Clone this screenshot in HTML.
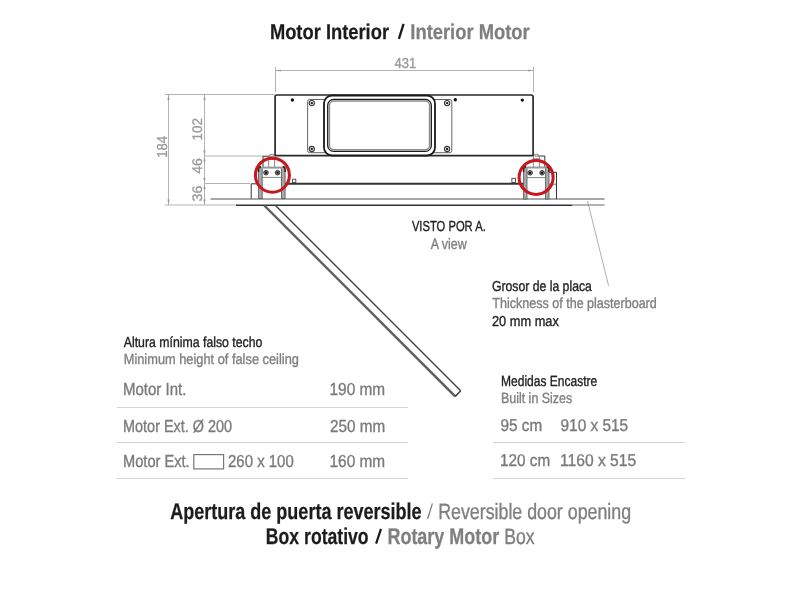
<!DOCTYPE html>
<html><head><meta charset="utf-8"><style>
html,body{margin:0;padding:0;background:#fff;}
svg{display:block;will-change:transform;}
text{font-family:"Liberation Sans", sans-serif;text-rendering:geometricPrecision;}
</style></head><body>
<svg width="800" height="589" viewBox="0 0 800 589">
<rect width="800" height="589" fill="#fff"/>
<g fill="none" stroke="#b3b3b3" stroke-width="1">
  <!-- 431 dim -->
  <line x1="275" y1="70.5" x2="533.5" y2="70.5"/>
  <line x1="275.5" y1="67" x2="275.5" y2="92"/>
  <line x1="533.5" y1="67" x2="533.5" y2="92"/>
  <!-- top ext -->
  <line x1="165" y1="94.5" x2="275" y2="94.5"/>
  <!-- 184 dim -->
  <line x1="168.5" y1="94.5" x2="168.5" y2="205"/>
  <!-- 102/46/36 dim -->
  <line x1="204.5" y1="94.5" x2="204.5" y2="205"/>
  <line x1="204" y1="156" x2="263" y2="156"/>
  <line x1="204" y1="183.5" x2="250" y2="183.5"/>
  <line x1="165" y1="205" x2="236" y2="205"/>
</g>
<g fill="#999" stroke="none">
<polygon points="168.5,95.0 169.6,100.0 167.4,100.0"/>
<polygon points="168.5,204.6 167.4,199.6 169.6,199.6"/>
<polygon points="204.5,95.0 205.6,100.0 203.4,100.0"/>
<polygon points="204.5,155.6 203.4,150.6 205.6,150.6"/>
<polygon points="204.5,156.4 205.6,161.4 203.4,161.4"/>
<polygon points="204.5,183.1 203.4,178.1 205.6,178.1"/>
<polygon points="204.5,183.9 205.6,188.9 203.4,188.9"/>
<polygon points="204.5,204.6 203.4,199.6 205.6,199.6"/>
<polygon points="275.8,70.5 280.8,69.4 280.8,71.6"/>
<polygon points="533.2,70.5 528.2,71.6 528.2,69.4"/>
</g>
<!-- box -->
<g fill="none" stroke="#2a2a2a">
  <path d="M275.1 155.6 V97 Q275.1 95 277.1 95 H531.1 Q533.1 95 533.1 97 V155.6 Z" stroke-width="1.7"/>
</g>
<g fill="#111">
  <circle cx="292.4" cy="100" r="1.7"/>
  <circle cx="455.3" cy="99.8" r="1.7"/>
  <circle cx="522.3" cy="100.1" r="1.7"/>
</g>
<rect x="307.6" y="99.5" width="144.2" height="53.2" rx="2" fill="none" stroke="#666" stroke-width="1"/>
<g fill="none" stroke="#333" stroke-width="1.1">
  <circle cx="311.8" cy="103.1" r="2.6"/>
  <circle cx="311.8" cy="149" r="2.6"/>
  <circle cx="447.1" cy="103.1" r="2.6"/>
  <circle cx="447.1" cy="149" r="2.6"/>
</g>
<g fill="#222">
  <circle cx="311.8" cy="103.1" r="1.2"/>
  <circle cx="311.8" cy="149" r="1.2"/>
  <circle cx="447.1" cy="103.1" r="1.2"/>
  <circle cx="447.1" cy="149" r="1.2"/>
</g>
<rect x="324" y="95.5" width="111" height="60" rx="8" fill="#fff" stroke="#1a1a1a" stroke-width="1.8"/>
<rect x="327.7" y="99.4" width="103.6" height="52" rx="6" fill="none" stroke="#1a1a1a" stroke-width="1.3"/>
<rect x="329.4" y="101.1" width="100.2" height="48.6" rx="4.5" fill="none" stroke="#8a8a8a" stroke-width="1.5"/>

<!-- frame bar -->
<line x1="285" y1="183.7" x2="523.6" y2="183.7" stroke="#333" stroke-width="1.9"/>
<rect x="292.6" y="179.2" width="3.2" height="3.3" fill="#fff" stroke="#444" stroke-width="0.9"/>
<rect x="511.9" y="178.3" width="3.6" height="4.2" fill="#fff" stroke="#444" stroke-width="0.9"/>
<!-- ceiling -->
<line x1="210.5" y1="199" x2="604.5" y2="199" stroke="#8a8a8a" stroke-width="1.3"/>
<line x1="236" y1="205.2" x2="572.5" y2="205.2" stroke="#333" stroke-width="1.5"/>
<line x1="572.5" y1="205" x2="604.5" y2="205" stroke="#999" stroke-width="1.3"/>
<line x1="587.5" y1="201" x2="608.6" y2="285.7" stroke="#999" stroke-width="0.8"/>

<!-- left bracket -->
<g fill="none" stroke="#333" stroke-width="1">
  <path d="M263 167 V156.2 H269.9"/>
  <path d="M251.2 198.6 V183.8 H258.5"/>
</g>
<rect x="269.9" y="154.3" width="3.4" height="2" fill="#fff" stroke="#777" stroke-width="0.8"/>
<g fill="none" stroke="#888" stroke-width="1">
  <path d="M268.7 167 V157 M274.6 167 V157"/>
  <line x1="262" y1="177.4" x2="281.5" y2="177.4"/>
</g>
<line x1="268.7" y1="159" x2="274.6" y2="159" stroke="#555" stroke-width="1"/>
<rect x="258.6" y="167.6" width="3.6" height="30.9" fill="#a8a8a8" stroke="#555" stroke-width="0.8"/>
<rect x="281.5" y="167.6" width="3.6" height="30.9" fill="#a8a8a8" stroke="#555" stroke-width="0.8"/>
<rect x="258.6" y="166.6" width="26.5" height="2" fill="#999" stroke="none"/>
<path d="M258.6 172 V169 Q258.6 166.8 261 166.8" fill="none" stroke="#222" stroke-width="1.4"/>
<path d="M285.1 172 V169 Q285.1 166.8 282.7 166.8" fill="none" stroke="#222" stroke-width="1.4"/>
<g fill="#8a8a8a" stroke="#2a2a2a" stroke-width="0.9">
  <circle cx="266" cy="172.7" r="2.3"/>
  <circle cx="277.6" cy="172.7" r="2.3"/>
</g>
<g fill="#000"><circle cx="266" cy="172.7" r="1.1"/><circle cx="277.6" cy="172.7" r="1.1"/></g>
<!-- right bracket -->
<g fill="none" stroke="#333" stroke-width="1">
  <path d="M537.9 156 H544.8 V167"/>
  <path d="M549 172.3 H556.5 V199"/>
  <line x1="549" y1="184.2" x2="556.5" y2="184.2" stroke="#666"/>
</g>
<rect x="534.9" y="154.2" width="3" height="1.9" fill="#fff" stroke="#777" stroke-width="0.8"/>
<g fill="none" stroke="#888" stroke-width="1">
  <path d="M533.4 167 V156 M539.4 167 V157"/>
  <line x1="527" y1="177.6" x2="545.6" y2="177.6"/>
</g>
<line x1="533.4" y1="159" x2="539.4" y2="159" stroke="#555" stroke-width="1"/>
<rect x="523.6" y="167.5" width="3.4" height="31.5" fill="#a8a8a8" stroke="#555" stroke-width="0.8"/>
<rect x="545.6" y="167.5" width="3.4" height="31.5" fill="#a8a8a8" stroke="#555" stroke-width="0.8"/>
<rect x="523.6" y="166.5" width="25.4" height="2" fill="#999" stroke="none"/>
<path d="M523.6 172 V169 Q523.6 166.7 526 166.7" fill="none" stroke="#222" stroke-width="1.4"/>
<path d="M549 172 V169 Q549 166.7 546.6 166.7" fill="none" stroke="#222" stroke-width="1.4"/>
<g fill="#8a8a8a" stroke="#2a2a2a" stroke-width="0.9">
  <circle cx="530.1" cy="172.8" r="2.3"/>
  <circle cx="542.1" cy="172.8" r="2.3"/>
</g>
<g fill="#000"><circle cx="530.1" cy="172.8" r="1.1"/><circle cx="542.1" cy="172.8" r="1.1"/></g>
<!-- red circles -->
<circle cx="272.4" cy="175.2" r="17" fill="none" stroke="#c8161d" stroke-width="3"/>
<circle cx="536.1" cy="177.4" r="17" fill="none" stroke="#c8161d" stroke-width="3"/>

<!-- door panel -->
<line x1="264.3" y1="205.5" x2="455.2" y2="396.4" stroke="#5e5e5e" stroke-width="2.4"/>
<line x1="275.5" y1="205.5" x2="460.7" y2="390.7" stroke="#444" stroke-width="1.4"/>
<line x1="455.2" y1="396.4" x2="460.7" y2="390.7" stroke="#333" stroke-width="1.4"/>

<!-- table separators -->
<g stroke="#d4d4d4" stroke-width="1">
  <line x1="116.5" y1="407.5" x2="407.7" y2="407.5"/>
  <line x1="116.5" y1="442.5" x2="407.7" y2="442.5"/>
  <line x1="116.5" y1="478.5" x2="407.7" y2="478.5"/>
  <line x1="493" y1="442.5" x2="685" y2="442.5"/>
  <line x1="493" y1="478.5" x2="685" y2="478.5"/>
</g>
<rect x="193.8" y="454.6" width="29.8" height="14.3" fill="none" stroke="#777" stroke-width="1.2"/>
<!-- slashes -->
<line x1="403.6" y1="23.8" x2="398.9" y2="38.8" stroke="#1c1c1c" stroke-width="2.3"/>
<line x1="432.4" y1="503.4" x2="427.7" y2="518.8" stroke="#7f7f7f" stroke-width="1.3"/>
<line x1="381" y1="528.8" x2="376.1" y2="543.6" stroke="#1c1c1c" stroke-width="2.2"/>

<text x="269.91" y="39.00" font-size="21.29" font-weight="bold" fill="#1c1c1c" stroke="#1c1c1c" stroke-width="0.25" textLength="119.15" lengthAdjust="spacingAndGlyphs">Motor Interior</text>
<text x="410.31" y="39.00" font-size="21.29" font-weight="bold" fill="#7f7f7f" stroke="#7f7f7f" stroke-width="0.25" textLength="119.45" lengthAdjust="spacingAndGlyphs">Interior Motor</text>
<text x="394.49" y="68.00" font-size="14.49" font-weight="normal" fill="#9a9a9a" stroke="#9a9a9a" stroke-width="0.35" textLength="21.71" lengthAdjust="spacingAndGlyphs">431</text>
<text x="411.90" y="231.20" font-size="14.49" font-weight="normal" fill="#222" stroke="#222" stroke-width="0.35" textLength="73.88" lengthAdjust="spacingAndGlyphs">VISTO POR A.</text>
<text x="430.80" y="248.60" font-size="15.22" font-weight="normal" fill="#7f7f7f" stroke="#7f7f7f" stroke-width="0.35" textLength="35.97" lengthAdjust="spacingAndGlyphs">A view</text>
<text x="491.99" y="290.50" font-size="14.49" font-weight="normal" fill="#222" stroke="#222" stroke-width="0.35" textLength="99.86" lengthAdjust="spacingAndGlyphs">Grosor de la placa</text>
<text x="492.35" y="308.40" font-size="14.49" font-weight="normal" fill="#7f7f7f" stroke="#7f7f7f" stroke-width="0.35" textLength="164.42" lengthAdjust="spacingAndGlyphs">Thickness of the plasterboard</text>
<text x="491.96" y="326.20" font-size="14.49" font-weight="normal" fill="#222" stroke="#222" stroke-width="0.35" textLength="66.87" lengthAdjust="spacingAndGlyphs">20 mm max</text>
<text x="123.75" y="346.90" font-size="14.49" font-weight="normal" fill="#222" stroke="#222" stroke-width="0.35" textLength="138.66" lengthAdjust="spacingAndGlyphs">Altura mínima falso techo</text>
<text x="123.73" y="364.40" font-size="14.49" font-weight="normal" fill="#7f7f7f" stroke="#7f7f7f" stroke-width="0.35" textLength="175.16" lengthAdjust="spacingAndGlyphs">Minimum height of false ceiling</text>
<text x="123.00" y="395.00" font-size="17.39" font-weight="normal" fill="#7a7a7a" stroke="#7a7a7a" stroke-width="0.35" textLength="63.32" lengthAdjust="spacingAndGlyphs">Motor Int.</text>
<text x="329.55" y="395.00" font-size="17.39" font-weight="normal" fill="#7a7a7a" stroke="#7a7a7a" stroke-width="0.35" textLength="55.63" lengthAdjust="spacingAndGlyphs">190 mm</text>
<text x="123.05" y="431.70" font-size="17.39" font-weight="normal" fill="#7a7a7a" stroke="#7a7a7a" stroke-width="0.35" textLength="109.08" lengthAdjust="spacingAndGlyphs">Motor Ext. Ø 200</text>
<text x="329.94" y="431.70" font-size="17.39" font-weight="normal" fill="#7a7a7a" stroke="#7a7a7a" stroke-width="0.35" textLength="55.23" lengthAdjust="spacingAndGlyphs">250 mm</text>
<text x="123.03" y="466.80" font-size="17.39" font-weight="normal" fill="#7a7a7a" stroke="#7a7a7a" stroke-width="0.35" textLength="66.66" lengthAdjust="spacingAndGlyphs">Motor Ext.</text>
<text x="228.05" y="466.70" font-size="17.39" font-weight="normal" fill="#7a7a7a" stroke="#7a7a7a" stroke-width="0.35" textLength="65.69" lengthAdjust="spacingAndGlyphs">260 x 100</text>
<text x="329.55" y="466.80" font-size="17.39" font-weight="normal" fill="#7a7a7a" stroke="#7a7a7a" stroke-width="0.35" textLength="55.63" lengthAdjust="spacingAndGlyphs">160 mm</text>
<text x="501.04" y="385.70" font-size="14.78" font-weight="normal" fill="#222" stroke="#222" stroke-width="0.35" textLength="96.16" lengthAdjust="spacingAndGlyphs">Medidas Encastre</text>
<text x="501.01" y="403.20" font-size="14.78" font-weight="normal" fill="#7f7f7f" stroke="#7f7f7f" stroke-width="0.35" textLength="71.13" lengthAdjust="spacingAndGlyphs">Built in Sizes</text>
<text x="500.56" y="431.25" font-size="17.03" font-weight="normal" fill="#7a7a7a" stroke="#7a7a7a" stroke-width="0.35" textLength="41.65" lengthAdjust="spacingAndGlyphs">95 cm</text>
<text x="560.56" y="431.25" font-size="17.03" font-weight="normal" fill="#7a7a7a" stroke="#7a7a7a" stroke-width="0.35" textLength="67.58" lengthAdjust="spacingAndGlyphs">910 x 515</text>
<text x="500.10" y="466.25" font-size="17.03" font-weight="normal" fill="#7a7a7a" stroke="#7a7a7a" stroke-width="0.35" textLength="50.11" lengthAdjust="spacingAndGlyphs">120 cm</text>
<text x="560.08" y="466.25" font-size="17.03" font-weight="normal" fill="#7a7a7a" stroke="#7a7a7a" stroke-width="0.35" textLength="76.06" lengthAdjust="spacingAndGlyphs">1160 x 515</text>
<text x="170.24" y="518.90" font-size="22.73" font-weight="bold" fill="#1c1c1c" stroke="#1c1c1c" stroke-width="0.25" textLength="251.32" lengthAdjust="spacingAndGlyphs">Apertura de puerta reversible</text>
<text x="438.18" y="518.90" font-size="22.03" font-weight="normal" fill="#7f7f7f" stroke="#7f7f7f" stroke-width="0.35" textLength="192.91" lengthAdjust="spacingAndGlyphs">Reversible door opening</text>
<text x="265.85" y="543.90" font-size="22.73" font-weight="bold" fill="#1c1c1c" stroke="#1c1c1c" stroke-width="0.25" textLength="102.78" lengthAdjust="spacingAndGlyphs">Box rotativo</text>
<text x="387.43" y="543.90" font-size="22.73" font-weight="bold" fill="#7f7f7f" stroke="#7f7f7f" stroke-width="0.25" textLength="111.82" lengthAdjust="spacingAndGlyphs">Rotary Motor</text>
<text x="504.19" y="543.90" font-size="22.03" font-weight="normal" fill="#7f7f7f" stroke="#7f7f7f" stroke-width="0.35" textLength="30.39" lengthAdjust="spacingAndGlyphs">Box</text>
<text transform="translate(166.80,156.70) rotate(-90)" x="-0.98" y="0" font-size="14.49" fill="#9a9a9a" stroke="#9a9a9a" stroke-width="0.3" textLength="21.82" lengthAdjust="spacingAndGlyphs">184</text>
<text transform="translate(201.80,139.50) rotate(-90)" x="-1.01" y="0" font-size="13.91" fill="#9a9a9a" stroke="#9a9a9a" stroke-width="0.3" textLength="22.43" lengthAdjust="spacingAndGlyphs">102</text>
<text transform="translate(201.80,173.60) rotate(-90)" x="-0.28" y="0" font-size="13.91" fill="#9a9a9a" stroke="#9a9a9a" stroke-width="0.3" textLength="15.77" lengthAdjust="spacingAndGlyphs">46</text>
<text transform="translate(201.80,200.90) rotate(-90)" x="-0.50" y="0" font-size="13.91" fill="#9a9a9a" stroke="#9a9a9a" stroke-width="0.3" textLength="15.78" lengthAdjust="spacingAndGlyphs">36</text>
</svg>
</body></html>
